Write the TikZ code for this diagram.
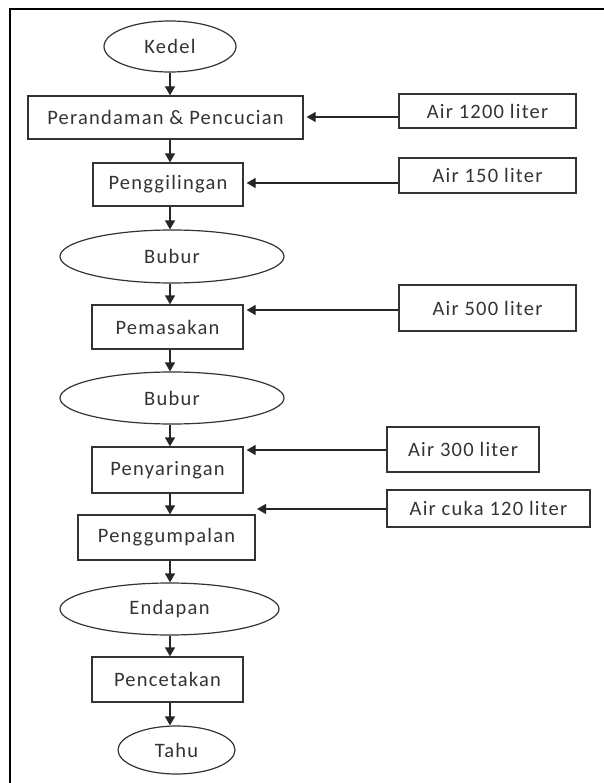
\documentclass[tikz,border=0pt]{standalone}
\usepackage{fontspec}
\setmainfont{Carlito}[LetterSpace=6]
\usetikzlibrary{shapes.geometric,arrows.meta}

\begin{document}
\begin{tikzpicture}[x=1pt,y=-1pt,
    kotak/.style={draw=black!80,line width=1.3pt,rectangle,inner sep=0pt,
        font=\fontsize{20.5}{22}\selectfont,text=black!80},
    bulat/.style={draw=black!80,line width=1.2pt,ellipse,inner sep=0pt,
        font=\fontsize{20.5}{22}\selectfont,text=black!80},
    panah/.style={draw=black!85,line width=1.3pt,shorten >=3pt,
        -{Triangle[length=9pt,width=10pt]}}]
                \useasboundingbox (0,0) rectangle (603,783);
                \draw [line width=2.2pt] (10,790) -- (10,9) -- (606,9);
                \node [bulat,minimum width=132pt,minimum height=51pt] (kedel) at (170,46.5) {Kedel};
                \node [kotak,minimum width=275pt,minimum height=43pt] (rendam) at (165.5,117.5) {Perandaman \& Pencucian};
                \node [kotak,minimum width=150pt,minimum height=43pt] (giling) at (168,184.5) {Penggilingan};
                \node [bulat,minimum width=224pt,minimum height=53pt] (bubur1) at (172,256.5) {Bubur};
                \node [kotak,minimum width=151pt,minimum height=44pt] (masak) at (167.5,327) {Pemasakan};
                \node [bulat,minimum width=224pt,minimum height=52pt] (bubur2) at (172,398) {Bubur};
                \node [kotak,minimum width=151pt,minimum height=46pt] (saring) at (167.5,470) {Penyaringan};
                \node [kotak,minimum width=177pt,minimum height=45pt] (gumpal) at (166.5,537.5) {Penggumpalan};
                \node [bulat,minimum width=219pt,minimum height=52pt] (endapan) at (169.5,609) {Endapan};
                \node [kotak,minimum width=151pt,minimum height=45pt] (cetak) at (167.5,679.5) {Pencetakan};
                \node [bulat,minimum width=117pt,minimum height=48pt] (tahu) at (176.5,750) {Tahu};
                \node [kotak,minimum width=177pt,minimum height=34pt] (air1) at (487.5,111) {Air 1200 liter};
                \node [kotak,minimum width=177pt,minimum height=35pt] (air2) at (487.5,175.5) {Air 150 liter};
                \node [kotak,minimum width=177pt,minimum height=46pt] (air3) at (487.5,308) {Air 500 liter};
                \node [kotak,minimum width=152pt,minimum height=45pt] (air4) at (463,449.5) {Air 300 liter};
                \node [kotak,minimum width=203pt,minimum height=37pt] (cuka) at (488.5,508.5) {Air cuka 120 liter};
                \coordinate (ujung) at (257,509);
                \foreach \a/\b in {kedel/rendam,rendam/giling,giling/bubur1,bubur1/masak,masak/bubur2,
                    bubur2/saring,saring/gumpal,gumpal/endapan,endapan/cetak,cetak/tahu}
                    \draw [panah,shorten >=0pt] (\a.south -| kedel) -- (\b.north -| kedel);
                \draw [panah] (air1.west |- 0,117) -- (rendam.east |- 0,117);
                \draw [panah] (air2.west |- 0,183) -- (giling.east |- 0,183);
                \draw [panah] (air3.west |- 0,310) -- (masak.east |- 0,310);
                \draw [panah] (air4.west |- 0,450) -- (saring.east |- 0,450);
                \draw [panah,shorten >=0pt] (cuka.west |- ujung) -- (ujung);
            \end{tikzpicture}
\end{document}
